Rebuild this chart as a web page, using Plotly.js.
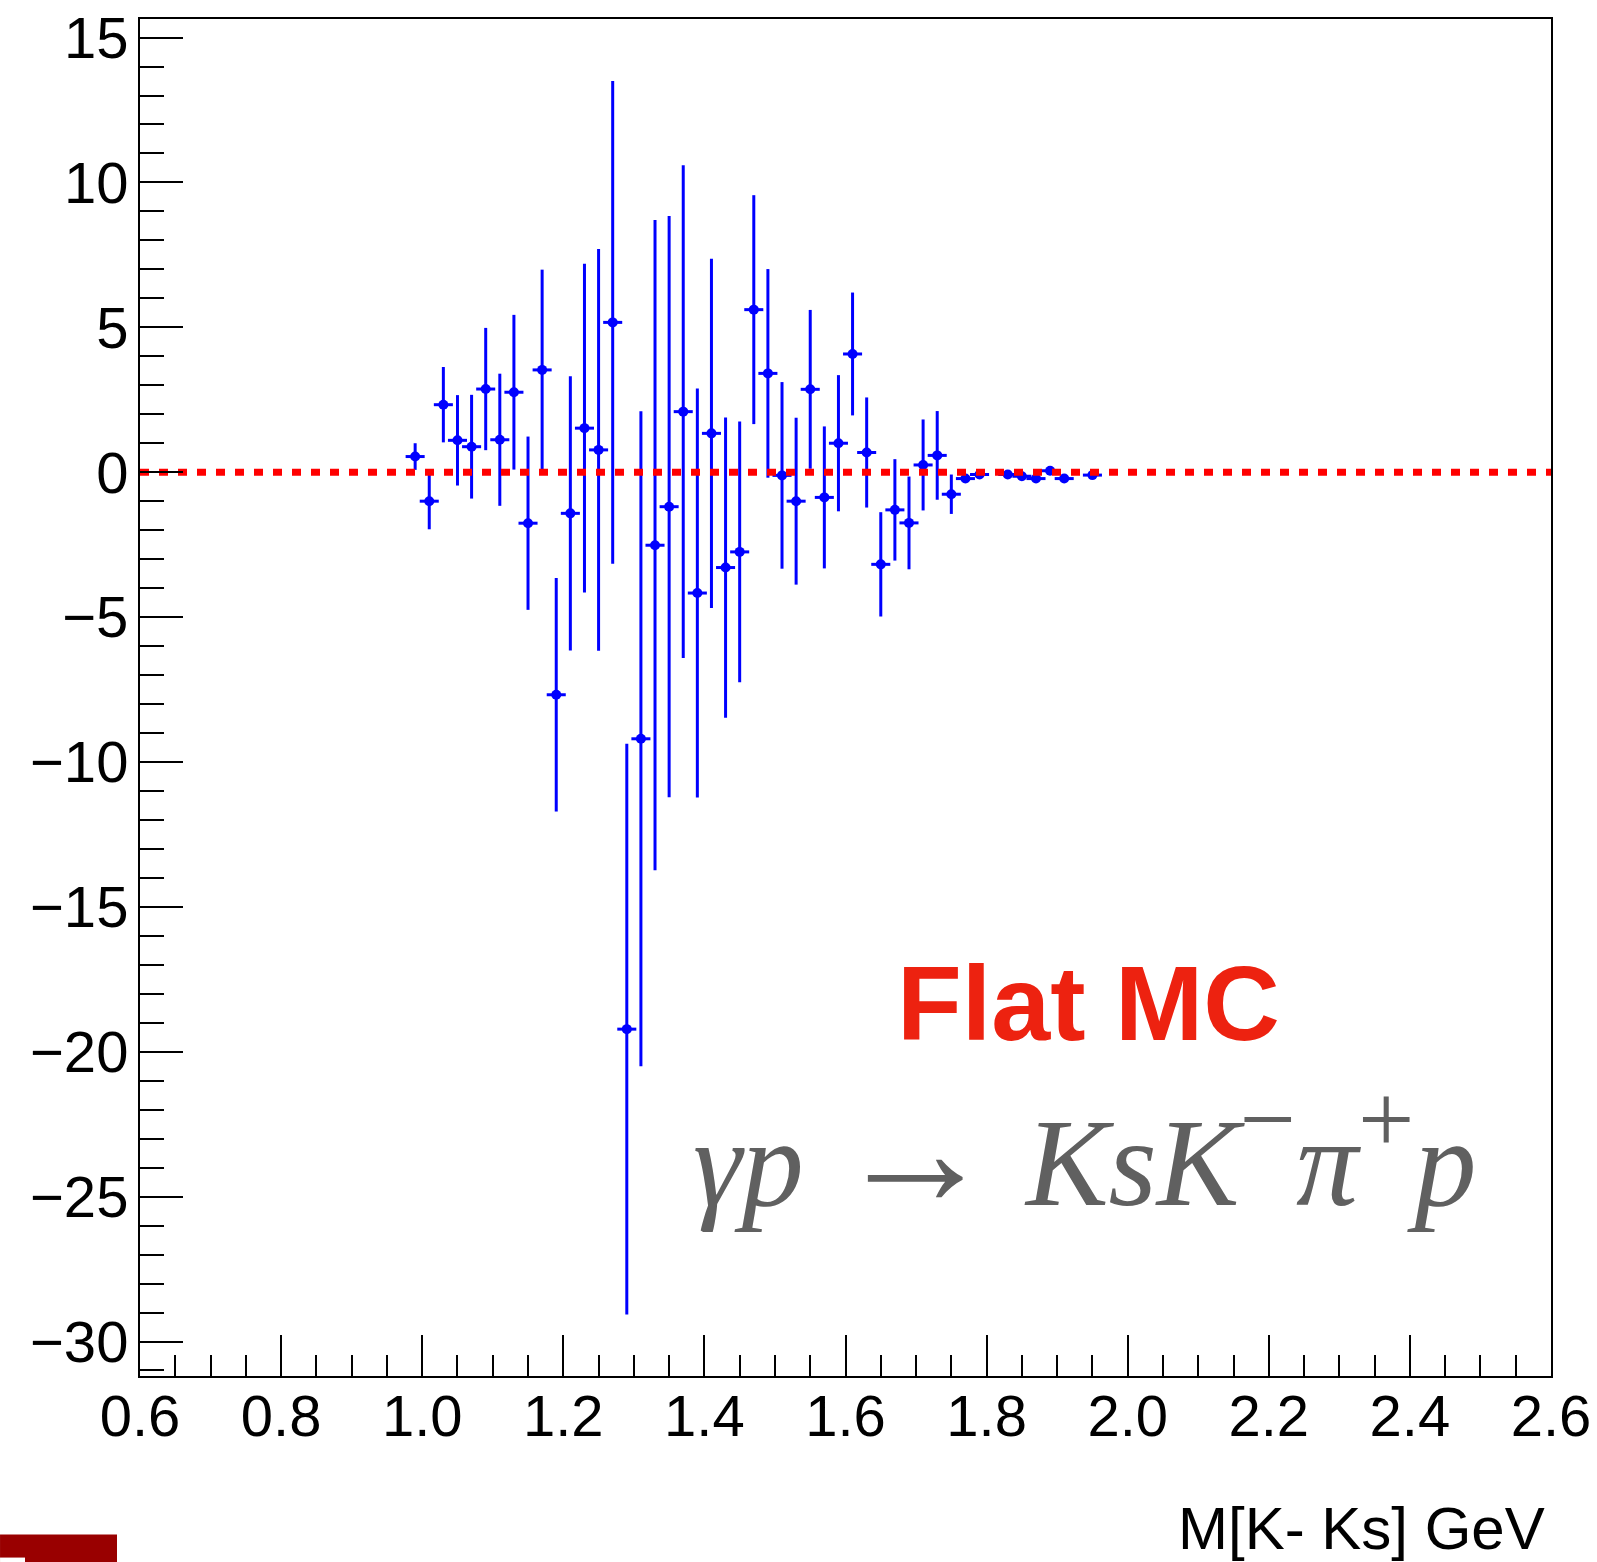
<!DOCTYPE html>
<html>
<head>
<meta charset="utf-8">
<script src="https://cdn.plot.ly/plotly-3.0.1.min.js"></script>
<style>html,body{margin:0;padding:0;background:#fff;}#chart{width:1597px;height:1562px;}</style>
</head>
<body>
<div id="chart"></div>
<script>
// Bin centres of M[K- Ks] (GeV)
const massGeV = [0.99,1.01,1.03,1.05,1.07,1.09,1.11,1.13,1.15,1.17,1.19,1.21,1.23,1.25,1.27,1.29,1.31,1.33,1.35,1.37,1.39,1.41,1.43,1.45,1.47,1.49,1.51,1.53,1.55,1.57,1.59,1.61,1.63,1.65,1.67,1.69,1.71,1.73,1.75,1.77,1.79,1.83,1.85,1.87,1.89,1.91,1.95];
// Bin contents
const values = [0.54,-1.0,2.33,1.1,0.88,2.87,1.12,2.76,-1.76,3.53,-7.68,-1.42,1.52,0.77,5.17,-19.22,-9.2,-2.52,-1.19,2.09,-4.17,1.34,-3.29,-2.75,5.61,3.41,-0.11,-1.0,2.86,-0.87,1.0,4.08,0.68,-3.18,-1.3,-1.75,0.25,0.58,-0.76,-0.22,-0.08,-0.08,-0.14,-0.22,0.05,-0.22,-0.1];
// Bin errors
const errors = [0.46,0.97,1.3,1.56,1.79,2.11,2.28,2.67,2.99,3.46,4.03,4.73,5.67,6.93,8.33,9.85,11.3,11.22,10.03,8.5,7.06,6.03,5.18,4.5,3.95,3.6,3.22,2.88,2.74,2.45,2.35,2.12,1.9,1.8,1.75,1.6,1.57,1.53,0.68,0.12,0.06,0.05,0.08,0.12,0.15,0.08,0.08];
// Reference line (zero)
const refLineX = [0.6, 2.6];
const refLineY = [0, 0];
const xTickVals = [0.6,0.8,1.0,1.2,1.4,1.6,1.8,2.0,2.2,2.4,2.6];
const yTickVals = [-30,-25,-20,-15,-10,-5,0,5,10,15];

const halfBin = 0.0135;

const traces = [
  {
    x: massGeV, y: values, type: 'scatter', mode: 'markers',
    marker: {color: '#0000ff', size: 10, symbol: 'circle', line: {width: 0}},
    error_y: {type: 'data', array: errors, visible: true, color: '#0000ff', thickness: 3, width: 0},
    error_x: {type: 'constant', value: halfBin, visible: true, color: '#0000ff', thickness: 3, width: 0},
    showlegend: false, hoverinfo: 'x+y'
  },
  {
    x: refLineX, y: refLineY, type: 'scatter', mode: 'lines',
    line: {color: '#ff0000', width: 7, dash: '9px,10px'},
    showlegend: false, hoverinfo: 'skip'
  }
];

const tickFont = {family: 'Liberation Sans, Arial, Helvetica, sans-serif', size: 58, color: '#000'};

const layout = {
  width: 1597, height: 1562,
  paper_bgcolor: '#ffffff', plot_bgcolor: '#ffffff',
  margin: {l: 140, r: 46, t: 19, b: 186, pad: 0},
  showlegend: false,
  xaxis: {
    range: [0.6, 2.6], tickvals: xTickVals, tickformat: '.1f',
    ticks: 'inside', ticklen: 41, tickwidth: 2, tickcolor: '#000',
    minor: {dtick: 0.05, tick0: 0.6, ticks: 'inside', ticklen: 21, tickwidth: 2, tickcolor: '#000', showgrid: false},
    showline: true, linecolor: '#000', linewidth: 2, mirror: true,
    showgrid: false, zeroline: false, tickfont: tickFont, ticklabelstandoff: -12
  },
  yaxis: {
    range: [-31.19, 15.64], tickvals: yTickVals,
    ticks: 'inside', ticklen: 43, tickwidth: 2, tickcolor: '#000',
    minor: {dtick: 1, tick0: 0, ticks: 'inside', ticklen: 24, tickwidth: 2, tickcolor: '#000', showgrid: false},
    showline: true, linecolor: '#000', linewidth: 2, mirror: true,
    showgrid: false, zeroline: false, tickfont: tickFont, ticklabelstandoff: -2
  },
  annotations: [
    {
      text: '<b>Flat MC</b>', xref: 'paper', yref: 'paper', x: 0.672, y: 0.2746,
      xanchor: 'center', yanchor: 'middle', showarrow: false,
      font: {family: 'Liberation Sans, Arial, Helvetica, sans-serif', size: 106, color: '#ed2210'}
    },
    {
      text: '<i>γp</i> <span style="font-size:160px">→</span> <i>KsK</i><sup><span style="font-size:100px">−</span></sup><i>π</i><sup><span style="font-size:100px">+</span></sup><i>p</i>',
      xref: 'paper', yref: 'paper', x: 0.6694, y: 0.1655,
      xanchor: 'center', yanchor: 'middle', showarrow: false,
      font: {family: 'Liberation Serif, Times New Roman, serif', size: 124, color: '#606060'}
    },
    {
      text: 'M[K- Ks] GeV', xref: 'paper', yref: 'paper', x: 0.9972, y: -0.1124,
      xanchor: 'right', yanchor: 'middle', showarrow: false,
      font: {family: 'Liberation Sans, Arial, Helvetica, sans-serif', size: 60, color: '#000'}
    }
  ],
  shapes: [
    {type: 'rect', xref: 'paper', yref: 'paper', x0: -0.0992, x1: -0.0163, y0: -0.1375, y1: -0.1168,
     fillcolor: '#990000', line: {width: 0}, layer: 'above'},
    {type: 'rect', xref: 'paper', yref: 'paper', x0: -0.0992, x1: -0.0815, y0: -0.1375, y1: -0.1338,
     fillcolor: '#ffffff', line: {width: 0}, layer: 'above'}
  ]
};

Plotly.newPlot('chart', traces, layout, {displayModeBar: false, staticPlot: true});
</script>
</body>
</html>
